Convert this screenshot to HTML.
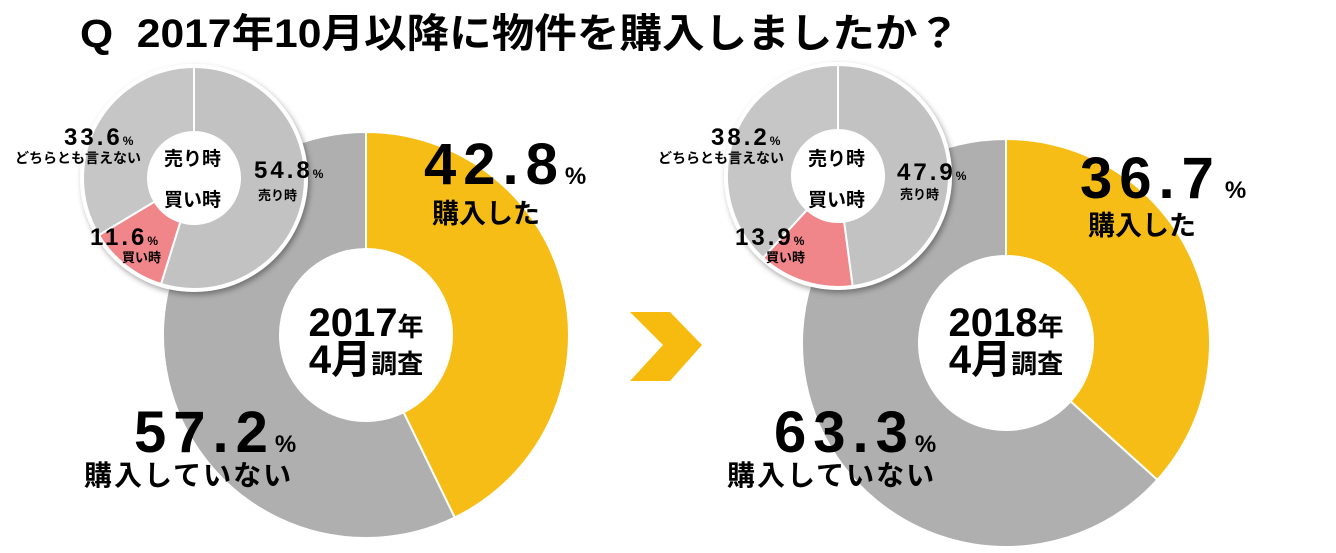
<!DOCTYPE html>
<html><head><meta charset="utf-8">
<style>
html,body{margin:0;padding:0;background:#fff;}
svg{display:block;font-family:"Liberation Sans","Noto Sans CJK JP",sans-serif;font-weight:bold;}
.bn{letter-spacing:7px;}
.sn{letter-spacing:3px;}
</style></head>
<body>
<svg id="chart" width="1336" height="553" viewBox="0 0 1336 553">
<defs>
<filter id="sh" x="-20%" y="-20%" width="140%" height="140%"><feDropShadow dx="2" dy="3" stdDeviation="3" flood-color="#000" flood-opacity="0.35"/></filter>
</defs>
<text x="80" y="47" font-size="40" textLength="880" lengthAdjust="spacingAndGlyphs" fill="#000" xml:space="preserve">Q  2017年10月以降に物件を購入しましたか？</text>
<g id="marks"></g>
<polygon points="630,312 670,312 702,345 670,381 630,381 663,345" fill="#f7bb0f"/>
<g id="labels" fill="#000">
  <text x="424" y="184" font-size="58"><tspan class="bn">42.8</tspan><tspan font-size="24">%</tspan></text>
  <text x="432" y="223" font-size="27">購入した</text>
  <text x="134" y="452" font-size="58"><tspan class="bn">57.2</tspan><tspan font-size="24">%</tspan></text>
  <text x="84" y="485" font-size="28" letter-spacing="2">購入していない</text>
  <text x="366" y="336" font-size="40" text-anchor="middle">2017<tspan font-size="26">年</tspan></text>
  <text x="366" y="373" font-size="40" text-anchor="middle">4月<tspan font-size="26">調査</tspan></text>
  <text x="64" y="145" font-size="24"><tspan class="sn">33.6</tspan><tspan font-size="12">%</tspan></text>
  <text x="15" y="163" font-size="14">どちらとも言えない</text>
  <text x="164" y="165" font-size="19">売り時</text>
  <text x="164" y="206" font-size="19">買い時</text>
  <text x="254" y="178" font-size="24"><tspan class="sn">54.8</tspan><tspan font-size="12">%</tspan></text>
  <text x="258" y="200" font-size="13">売り時</text>
  <text x="90" y="245" font-size="24"><tspan class="sn">11.6</tspan><tspan font-size="12">%</tspan></text>
  <text x="122" y="262" font-size="13">買い時</text>
  <text x="1080" y="198" font-size="58"><tspan class="bn">36.7</tspan><tspan font-size="24" dx="4">%</tspan></text>
  <text x="1088" y="235" font-size="27">購入した</text>
  <text x="774" y="452" font-size="58"><tspan class="bn">63.3</tspan><tspan font-size="24">%</tspan></text>
  <text x="727" y="485" font-size="28" letter-spacing="2">購入していない</text>
  <text x="1006" y="336" font-size="40" text-anchor="middle">2018<tspan font-size="26">年</tspan></text>
  <text x="1006" y="373" font-size="40" text-anchor="middle">4月<tspan font-size="26">調査</tspan></text>
  <text x="711" y="145" font-size="24"><tspan class="sn">38.2</tspan><tspan font-size="12">%</tspan></text>
  <text x="658" y="163" font-size="14">どちらとも言えない</text>
  <text x="808" y="165" font-size="19">売り時</text>
  <text x="808" y="206" font-size="19">買い時</text>
  <text x="897" y="180" font-size="24"><tspan class="sn">47.9</tspan><tspan font-size="12">%</tspan></text>
  <text x="900" y="199" font-size="13">売り時</text>
  <text x="735" y="245" font-size="24"><tspan class="sn">13.9</tspan><tspan font-size="12">%</tspan></text>
  <text x="766" y="262" font-size="13">買い時</text>
</g>
</svg>
<script>
const bigCategories = ["purchased", "not-purchased"];
const big2017 = [42.8, 57.2];
const big2018 = [36.7, 63.3];
const bigColors = ["#f6bd16", "#afafaf"];
const smallCategories = ["sell-time", "buy-time", "neither"];
const small2017 = [54.8, 11.6, 33.6];
const small2018 = [47.9, 13.9, 38.2];
const smallColors = ["#c2c2c2", "#f0868a", "#c6c6c6"];

const NS = "http://www.w3.org/2000/svg";
const marks = document.getElementById("marks");
function pt(cx, cy, r, frac) { const a = frac * 2 * Math.PI; return [cx + r * Math.sin(a), cy - r * Math.cos(a)]; }
function arcPath(cx, cy, ro, ri, f0, f1) {
  const large = (f1 - f0) > 0.5 ? 1 : 0;
  const a = pt(cx, cy, ro, f0), b = pt(cx, cy, ro, f1), c = pt(cx, cy, ri, f1), d = pt(cx, cy, ri, f0);
  return `M${a[0]},${a[1]}A${ro},${ro} 0 ${large} 1 ${b[0]},${b[1]}L${c[0]},${c[1]}A${ri},${ri} 0 ${large} 0 ${d[0]},${d[1]}Z`;
}
function donut(name, cx, cy, ro, ri, vals, cats, colors, shadow) {
  const g = document.createElementNS(NS, "g");
  
  
  if (shadow) g.setAttribute("filter", "url(#sh)");
  const bg = document.createElementNS(NS, "circle");
  bg.setAttribute("cx", cx); bg.setAttribute("cy", cy); bg.setAttribute("r", ro + 3); bg.setAttribute("fill", "#fff");
  
  
  g.appendChild(bg);
  const total = vals.reduce((s, v) => s + v, 0);
  let acc = 0;
  vals.forEach((v, i) => {
    const p = document.createElementNS(NS, "path");
    p.setAttribute("d", arcPath(cx, cy, ro, ri, acc / total, (acc + v) / total));
    p.setAttribute("fill", colors[i]);
    p.setAttribute("stroke", "#fff");
    p.setAttribute("stroke-width", "2");
    
    
    g.appendChild(p);
    acc += v;
  });
  marks.appendChild(g);
}
donut("donut-2017", 366, 335, 203, 86, big2017, bigCategories, bigColors, false);
donut("donut-2018", 1006, 343, 204, 87, big2018, bigCategories, bigColors, false);
donut("inner-donut-2017", 194, 178, 111, 46, small2017, smallCategories, smallColors, true);
donut("inner-donut-2018", 838, 176, 111, 46, small2018, smallCategories, smallColors, true);
</script>
</body></html>
